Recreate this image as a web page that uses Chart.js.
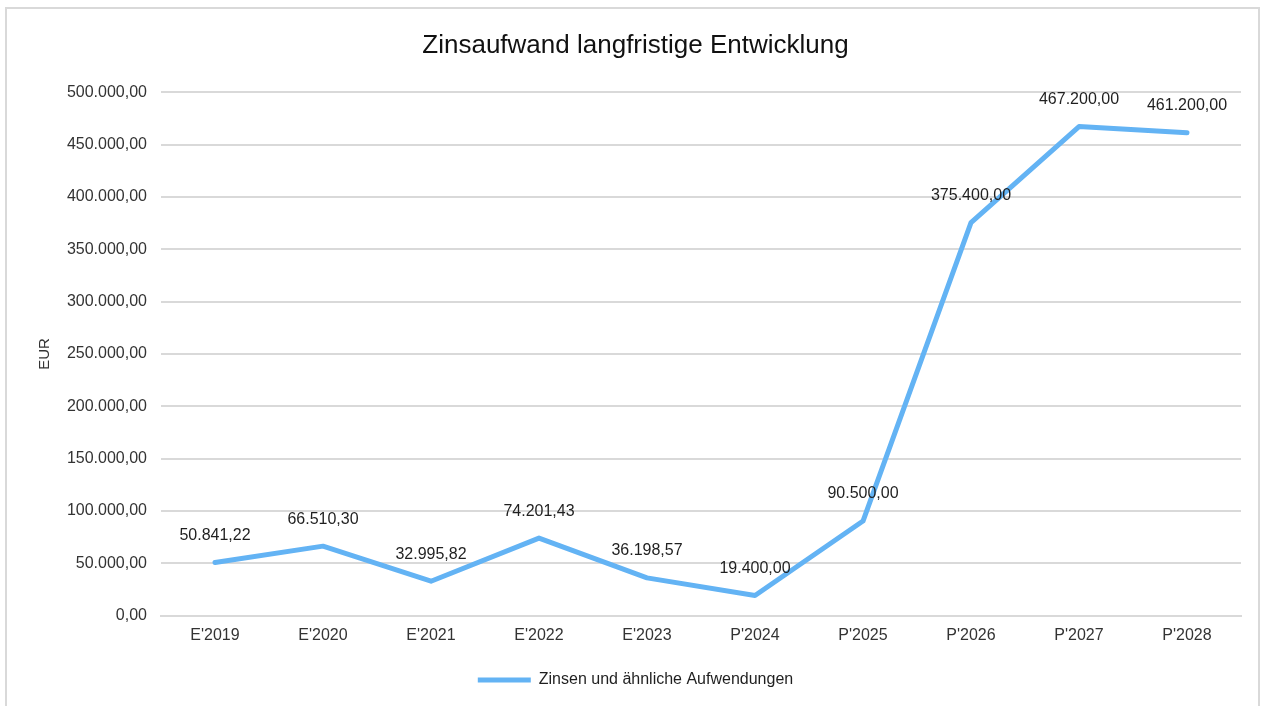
<!DOCTYPE html>
<html>
<head>
<meta charset="utf-8">
<script src="https://cdn.jsdelivr.net/npm/chart.js@4.4.1/dist/chart.umd.min.js"></script>
<style>
    html, body { margin: 0; padding: 0; background: #fff; overflow: hidden; }
    #wrap { position: relative; width: 1270px; height: 706px; }
    #frame {
        position: absolute; left: 5px; top: 7px; width: 1255px; height: 720px;
        border: 2px solid #d9d9d9; box-sizing: border-box; pointer-events: none;
    }
</style>
</head>
<body>
<div id="wrap">
    <canvas id="zinsChart" width="1270" height="706"></canvas>
    <div id="frame"></div>
</div>
<script>
const categories = ["E'2019", "E'2020", "E'2021", "E'2022", "E'2023", "P'2024", "P'2025", "P'2026", "P'2027", "P'2028"];
const zinsen = [50841.22, 66510.30, 32995.82, 74201.43, 36198.57, 19400.00, 90500.00, 375400.00, 467200.00, 461200.00];
const seriesName = 'Zinsen und ähnliche Aufwendungen';
const yMin = 0;
const yMax = 500000;
const yStep = 50000;

// German number format: 500.000,00
function formatDE(v) {
    const fixed = Math.abs(v).toFixed(2);
    const parts = fixed.split('.');
    const intPart = parts[0].replace(/\B(?=(\d{3})+(?!\d))/g, '.');
    return (v < 0 ? '-' : '') + intPart + ',' + parts[1];
}

const fontFamily = '"Liberation Sans", Arial, sans-serif';
const textColor = '#333333';
const lineColor = 'rgb(99, 179, 244)';

// Draw value labels above each point
const valueLabels = {
    id: 'valueLabels',
    afterDatasetsDraw(chart) {
        const ctx = chart.ctx;
        const meta = chart.getDatasetMeta(0);
        ctx.save();
        ctx.font = '16px ' + fontFamily;
        ctx.fillStyle = '#1f1f1f';
        ctx.textAlign = 'center';
        ctx.textBaseline = 'middle';
        meta.data.forEach((pt, i) => {
            ctx.fillText(formatDE(chart.data.datasets[0].data[i]), pt.x, pt.y - 27);
        });
        ctx.restore();
    }
};

const zinsChart = new Chart(document.getElementById('zinsChart'), {
    type: 'line',
    data: {
        labels: categories,
        datasets: [{
            label: seriesName,
            data: zinsen,
            borderColor: lineColor,
            backgroundColor: lineColor,
            borderWidth: 5,
            borderCapStyle: 'round',
            borderJoinStyle: 'round',
            pointRadius: 0,
            pointHoverRadius: 0,
            tension: 0,
            fill: false
        }]
    },
    options: {
        responsive: false,
        animation: false,
        layout: {
            padding: { left: 30, right: 29, top: 0, bottom: 8 }
        },
        plugins: {
            title: {
                display: true,
                text: 'Zinsaufwand langfristige Entwicklung',
                color: '#111',
                font: { family: fontFamily, size: 26, weight: 'normal' },
                padding: { top: 30, bottom: 31 }
            },
            legend: {
                position: 'bottom',
                labels: {
                    usePointStyle: true,
                    pointStyle: 'line',
                    pointStyleWidth: 53,
                    color: '#1f1f1f',
                    font: { family: fontFamily, size: 16 },
                    padding: 17
                }
            },
            tooltip: { enabled: false }
        },
        scales: {
            x: {
                offset: true,
                grid: { display: false, drawTicks: false },
                border: { display: true, color: '#d9d9d9', width: 2 },
                ticks: {
                    color: textColor,
                    padding: 10,
                    font: { family: fontFamily, size: 16 },
                    maxRotation: 0
                }
            },
            y: {
                min: yMin,
                max: yMax,
                grid: { color: '#d9d9d9', lineWidth: 2, drawTicks: false },
                border: { display: false },
                ticks: {
                    stepSize: yStep,
                    color: textColor,
                    padding: 14,
                    font: { family: fontFamily, size: 16 },
                    callback: v => formatDE(v)
                },
                title: {
                    display: true,
                    text: 'EUR',
                    color: textColor,
                    font: { family: fontFamily, size: 15 },
                    padding: { top: 6, bottom: 0 }
                },
                afterFit: scale => { scale.width = 131; }
            }
        }
    },
    plugins: [valueLabels]
});
</script>
</body>
</html>
